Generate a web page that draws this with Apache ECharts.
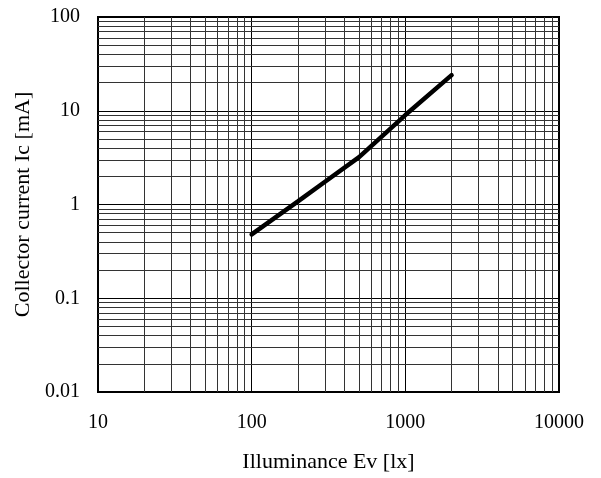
<!DOCTYPE html>
<html>
<head>
<meta charset="utf-8">
<script src="https://cdn.jsdelivr.net/npm/echarts@6/dist/echarts.min.js"></script>
<style>html,body{margin:0;padding:0;background:#fff}#c{width:601px;height:478px}</style>
</head>
<body>
<div id="c"></div>
<script>
// Data
const illuminance = [100, 200, 300, 500, 1000, 2000];
const collectorCurrent = [0.48, 1.08, 1.75, 3.2, 9.0, 24];
// Axis ranges / tick labels
const xTicks = [10, 100, 1000, 10000];
const yTicks = [0.01, 0.1, 1, 10, 100];
const minorMultipliers = [2, 3, 4, 5, 6, 7, 8, 9];

const xMinor = [];
for (let i = 0; i < xTicks.length - 1; i++) minorMultipliers.forEach(m => xMinor.push(xTicks[i] * m));
const yMinor = [];
for (let i = 0; i < yTicks.length - 1; i++) minorMultipliers.forEach(m => yMinor.push(+(yTicks[i] * m).toPrecision(3)));

const font = 'Liberation Serif';
const fmt = v => String(+(+v).toPrecision(3));
const chart = echarts.init(document.getElementById('c'));
chart.setOption({
  animation: false,
  backgroundColor: '#fff',
  grid: { left: 98, right: 42, top: 17, bottom: 86, show: true, borderColor: '#000', borderWidth: 2, backgroundColor: 'transparent' },
  xAxis: {
    type: 'log', logBase: 10, min: 10, max: 10000,
    name: 'Illuminance Ev [lx]', nameLocation: 'middle', nameGap: 59,
    nameTextStyle: { fontFamily: font, fontSize: 22, color: '#000' },
    axisLine: { show: true, lineStyle: { color: '#000', width: 2 } },
    axisTick: { show: false },
    axisLabel: { fontFamily: font, fontSize: 20, color: '#000', margin: 21, formatter: fmt },
    splitLine: { show: true, lineStyle: { color: '#000', width: 1 } }
  },
  yAxis: {
    type: 'log', logBase: 10, min: 0.01, max: 100,
    name: 'Collector current Ic [mA]', nameLocation: 'middle', nameGap: 63, nameRotate: 90,
    nameTextStyle: { fontFamily: font, fontSize: 22, color: '#000' },
    axisLine: { show: true, lineStyle: { color: '#000', width: 2 } },
    axisTick: { show: false },
    axisLabel: { fontFamily: font, fontSize: 20, color: '#000', margin: 18, formatter: fmt },
    splitLine: { show: true, lineStyle: { color: '#000', width: 1 } }
  },
  series: [
    {
      type: 'line', data: [], z: 1, silent: true,
      markLine: {
        silent: true, symbol: 'none', animation: false,
        label: { show: false },
        lineStyle: { type: 'solid', color: '#333', width: 1 },
        data: xMinor.map(v => ({ xAxis: v })).concat(yMinor.map(v => ({ yAxis: v })))
      }
    },
    {
      type: 'line', z: 5,
      data: illuminance.map((x, i) => [x, collectorCurrent[i]]),
      showSymbol: false, smooth: false,
      lineStyle: { color: '#000', width: 4.5, cap: 'round' }
    }
  ]
});
</script>
</body>
</html>
